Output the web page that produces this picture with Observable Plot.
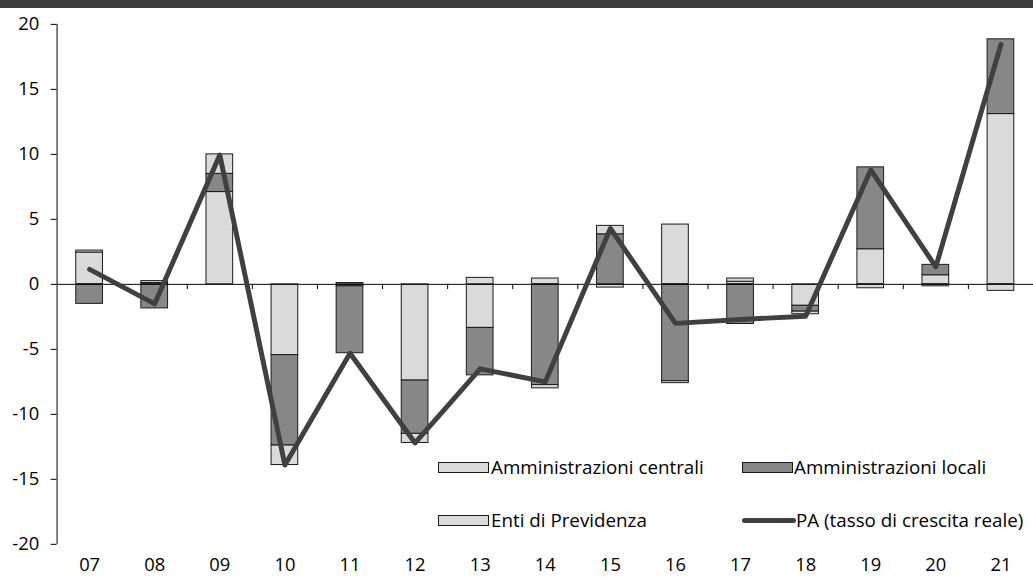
<!DOCTYPE html>
<html>
<head>
<meta charset="utf-8">
<script src="https://cdn.jsdelivr.net/npm/d3@7"></script>
<script src="https://cdn.jsdelivr.net/npm/@observablehq/plot@0.6"></script>
<style>
  html, body { margin: 0; padding: 0; background: #fff; overflow: hidden; }
  body { width: 1033px; height: 584px; position: relative; font-family: "Open Sans", sans-serif; }
  #header { position: absolute; left: 0; top: 0; width: 1033px; height: 8px; background: #3c3c3c; }
  #chart { position: absolute; left: 0; top: 8px; }
  .lg { position: absolute; font-size: 18.8px; line-height: 22px; color: #000; white-space: nowrap; }
  .sw { position: absolute; width: 49px; height: 9px; border: 1px solid #1a1a1a; }
  .ln { position: absolute; height: 5px; background: #404040; border-radius: 3px; }
</style>
</head>
<body>
<div id="header"></div>
<div id="chart"></div>
<script>
// ---- data ----
const years = ["07","08","09","10","11","12","13","14","15","16","17","18","19","20","21"];
const centrali = [2.45, 0.1, 7.1, -5.45, -0.15, -7.4, -3.35, 0.45, -0.25, 4.6, 0.2, -1.65, 2.7, 0.7, 13.1];
const locali   = [-1.5, -1.85, 1.4, -6.95, -5.15, -4.1, -3.65, -7.75, 3.85, -7.45, -3.05, -0.45, 6.3, 0.8, 5.75];
const enti     = [0.15, 0.15, 1.5, -1.5, 0.1, -0.7, 0.5, -0.25, 0.65, -0.15, 0.25, -0.2, -0.3, -0.15, -0.5];
const pa       = [1.15, -1.5, 9.95, -13.9, -5.3, -12.2, -6.5, -7.5, 4.3, -3.0, -2.7, -2.45, 8.8, 1.35, 18.45];
const seriesNames = ["Amministrazioni centrali", "Amministrazioni locali", "Enti di Previdenza"];
const lineName = "PA (tasso di crescita reale)";
const yTicks = [-20, -15, -10, -5, 0, 5, 10, 15, 20];
const seriesColors = ["#dadada", "#878787", "#dadada"];

const rows = [];
[centrali, locali, enti].forEach((arr, si) => {
  arr.forEach((v, i) => rows.push({year: years[i], series: seriesNames[si], value: v}));
});
const paRows = pa.map((v, i) => ({year: years[i], value: v}));

const width = 1041, height = 576, marginLeft = 57, marginRight = 0;
const step = (width - marginLeft - marginRight) / years.length;

const chart = Plot.plot({
  width, height,
  marginTop: 16, marginBottom: 36, marginLeft, marginRight,
  style: {fontFamily: "Open Sans", background: "transparent", color: "#000", overflow: "visible"},
  x: {type: "band", domain: years, paddingInner: 0.59, paddingOuter: 0.295, round: false, label: null},
  y: {domain: [-20, 20], label: null},
  color: {domain: seriesNames, range: seriesColors},
  marks: [
    Plot.axisY({ticks: yTicks, tickSize: 6, tickPadding: 12, tickFormat: d => String(d), fontSize: 18.5, stroke: "#000", label: null}),
    Plot.axisX({anchor: "bottom", tickSize: 0, tickPadding: 14, fontSize: 18.5, label: null}),
    Plot.barY(rows, Plot.stackY({x: "year", y: "value", fill: "series", stroke: "#1a1a1a", strokeWidth: 1})),
    Plot.ruleY([0], {stroke: "#000", strokeWidth: 1}),
    Plot.ruleX(years, {x: d => d, y1: 0, y2: -0.4, dx: step / 2, stroke: "#000", strokeWidth: 1}),
    Plot.ruleX([years[0]], {x: d => d, y1: -20, y2: 20, dx: -step / 2, stroke: "#000", strokeWidth: 1}),
    Plot.line(paRows, {x: "year", y: "value", stroke: "#404040", strokeWidth: 5, strokeLinejoin: "round", strokeLinecap: "round"})
  ]
});
document.getElementById("chart").appendChild(chart);

// ---- legend (overlay, inside plot area) ----
function addSwatch(x, y, color) {
  const s = document.createElement("div");
  s.className = "sw"; s.style.left = x + "px"; s.style.top = y + "px"; s.style.background = color;
  document.body.appendChild(s);
}
function addLine(x, y, w) {
  const s = document.createElement("div");
  s.className = "ln"; s.style.left = x + "px"; s.style.top = y + "px"; s.style.width = w + "px";
  document.body.appendChild(s);
}
function addLabel(x, y, text) {
  const t = document.createElement("div");
  t.className = "lg"; t.style.left = x + "px"; t.style.top = y + "px"; t.textContent = text;
  document.body.appendChild(t);
}
addSwatch(438, 462, seriesColors[0]); addLabel(491, 456, seriesNames[0]);
addSwatch(742, 462, seriesColors[1]); addLabel(794, 456, seriesNames[1]);
addSwatch(438, 515, seriesColors[2]); addLabel(491, 509, seriesNames[2]);
addLine(742, 518, 54); addLabel(796, 509, lineName);
</script>
</body>
</html>
